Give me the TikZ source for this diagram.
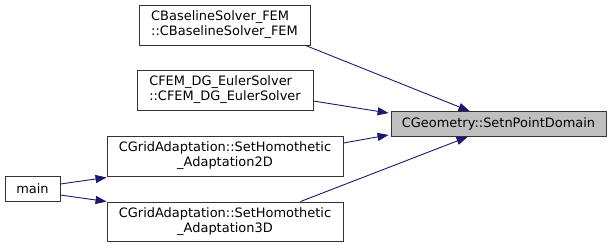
\documentclass[tikz,border=0pt]{standalone}
\usepackage{fontspec}
\setmainfont{DejaVu Sans}
\usetikzlibrary{arrows.meta,calc}
\definecolor{edgeblue}{HTML}{191970}
\definecolor{hilite}{HTML}{BFBFBF}
\tikzset{
  fn/.style={draw=black!80, line width=0.9pt, fill=white, inner sep=0pt,
    font=\fontsize{12.95}{15}\selectfont},
  callee/.style={fn, fill=hilite},
  call/.style={draw=edgeblue, line width=0.9pt,
    -{Triangle[length=11pt,width=8pt]}},
}
\begin{document}
\begin{tikzpicture}[x=1pt,y=-1pt]
\useasboundingbox (0,0) rectangle (612,248);
% caller boxes
\node[fn, minimum width=171pt, minimum height=40pt, align=left] (base) at (224.5,25)
  {CBaselineSolver\_FEM\\::CBaselineSolver\_FEM};
\node[fn, minimum width=176pt, minimum height=40pt, align=left] (dg) at (225,90)
  {CFEM\_DG\_EulerSolver\\::CFEM\_DG\_EulerSolver};
\node[fn, minimum width=236pt, minimum height=40pt, align=center] (h2) at (225,156)
  {CGridAdaptation::SetHomothetic\\\_Adaptation2D};
\node[fn, minimum width=236pt, minimum height=39pt, align=center] (h3) at (225,221.5)
  {CGridAdaptation::SetHomothetic\\\_Adaptation3D};
\node[fn, minimum width=55pt, minimum height=25pt] (main) at (32.5,189) {main};
% the function being called
\node[callee, minimum width=215pt, minimum height=25pt] (tgt) at (498.5,124)
  {CGeometry::SetnPointDomain};
% call edges
\draw[call] ($(base.south east)+(-5,0)$) -- ($(tgt.north west)+(79,0)$);
\draw[call] ($(dg.east)+(0,11)$) -- ($(tgt.north west)+(-2,2)$);
\draw[call] ($(h2.east)+(0,-13)$) -- ($(tgt.south west)+(-2,-2)$);
\draw[call] ($(h3.north east)+(-43,0)$) -- ($(tgt.south west)+(77,0)$);
\draw[call] ($(main.east)+(0,-5)$) -- ($(h2.south west)+(0,1)$);
\draw[call] ($(main.east)+(0,6)$) -- ($(h3.north west)+(0,0)$);
\end{tikzpicture}
\end{document}
